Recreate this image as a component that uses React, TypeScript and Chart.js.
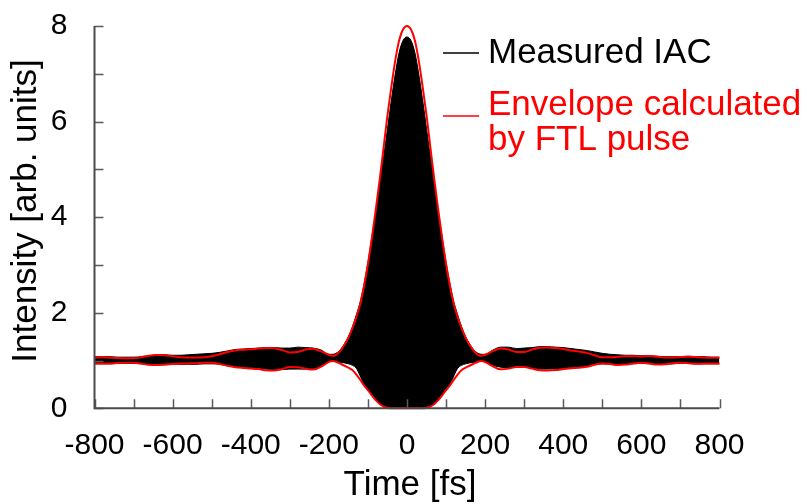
import React, { useEffect, useRef } from "react";
import { Chart, registerables } from "chart.js";

Chart.register(...registerables);

// Delay axis (fs): coarse in the wings, finer around zero delay
const times = [
  -800, -780, -760, -740, -720, -700, -680, -660, -640, -620,
  -600, -580, -560, -540, -520, -500, -480, -460, -440, -420,
  -400, -380, -360, -340, -320, -300, -280, -260, -240, -220,
  -200, -190, -180, -170, -160, -150, -140, -130, -120, -110,
  -100, -90, -80, -70, -60, -50, -40, -30, -20, -10,
  0,
  10, 20, 30, 40, 50, 60, 70, 80, 90, 100,
  110, 120, 130, 140, 150, 160, 170, 180, 190, 200,
  220, 240, 260, 280, 300, 320, 340, 360, 380, 400,
  420, 440, 460, 480, 500, 520, 540, 560, 580, 600,
  620, 640, 660, 680, 700, 720, 740, 760, 780, 800,
];

// Measured interferometric autocorrelation: upper and lower fringe envelope
const iacUpper = [
  1.08, 1.08, 1.08, 1.07, 1.07, 1.07, 1.08, 1.1, 1.12, 1.12,
  1.11, 1.11, 1.12, 1.13, 1.14, 1.15, 1.17, 1.2, 1.23, 1.24,
  1.25, 1.26, 1.27, 1.27, 1.26, 1.26, 1.28, 1.27, 1.26, 1.22,
  1.13, 1.13, 1.16, 1.23, 1.35, 1.5, 1.7, 1.95, 2.22, 2.6,
  3.05, 3.58, 4.12, 4.68, 5.25, 5.85, 6.45, 7.0, 7.45, 7.7,
  7.77,
  7.7, 7.45, 7.0, 6.45, 5.85, 5.25, 4.68, 4.12, 3.58, 3.05,
  2.6, 2.22, 1.95, 1.7, 1.5, 1.35, 1.23, 1.16, 1.13, 1.13,
  1.22, 1.28, 1.28, 1.25, 1.26, 1.27, 1.29, 1.29, 1.28, 1.27,
  1.25, 1.23, 1.21, 1.18, 1.15, 1.13, 1.12, 1.11, 1.11, 1.1,
  1.1, 1.09, 1.08, 1.08, 1.08, 1.09, 1.08, 1.08, 1.07, 1.07,
];

const iacLower = [
  0.93, 0.93, 0.93, 0.94, 0.94, 0.94, 0.93, 0.91, 0.91, 0.91,
  0.92, 0.92, 0.92, 0.92, 0.93, 0.93, 0.92, 0.89, 0.87, 0.86,
  0.85, 0.84, 0.82, 0.81, 0.81, 0.82, 0.82, 0.82, 0.83, 0.87,
  0.98, 0.99, 0.98, 0.96, 0.95, 0.93, 0.9, 0.84, 0.68, 0.5,
  0.38, 0.27, 0.17, 0.09, 0.03, 0, 0, 0, 0, 0,
  0,
  0, 0, 0, 0, 0, 0.03, 0.09, 0.17, 0.27, 0.38,
  0.5, 0.68, 0.84, 0.9, 0.93, 0.95, 0.96, 0.98, 0.99, 0.98,
  0.9, 0.86, 0.85, 0.86, 0.86, 0.84, 0.82, 0.82, 0.83, 0.84,
  0.85, 0.86, 0.88, 0.91, 0.93, 0.92, 0.91, 0.92, 0.93, 0.94,
  0.93, 0.92, 0.92, 0.93, 0.94, 0.94, 0.93, 0.93, 0.93, 0.93,
];

// Envelope calculated from the Fourier-transform-limited pulse
const envUpper = [
  1.06, 1.07, 1.06, 1.05, 1.045, 1.045, 1.07, 1.1, 1.115, 1.11,
  1.09, 1.07, 1.065, 1.065, 1.07, 1.09, 1.13, 1.18, 1.21, 1.225,
  1.235, 1.25, 1.26, 1.255, 1.22, 1.17, 1.18, 1.23, 1.245, 1.19,
  1.12, 1.1, 1.13, 1.21, 1.33, 1.48, 1.67, 1.9, 2.18, 2.56,
  3.02, 3.56, 4.15, 4.78, 5.45, 6.13, 6.73, 7.28, 7.7, 7.93,
  8.0,
  7.93, 7.7, 7.28, 6.73, 6.13, 5.45, 4.78, 4.15, 3.56, 3.02,
  2.56, 2.18, 1.9, 1.67, 1.48, 1.33, 1.21, 1.13, 1.1, 1.12,
  1.2, 1.25, 1.23, 1.18, 1.18, 1.23, 1.265, 1.27, 1.26, 1.24,
  1.21, 1.19, 1.16, 1.11, 1.07, 1.07, 1.08, 1.09, 1.09, 1.085,
  1.095, 1.08, 1.065, 1.065, 1.075, 1.08, 1.075, 1.065, 1.06, 1.06,
];

const envLower = [
  0.94, 0.935, 0.94, 0.95, 0.955, 0.955, 0.935, 0.91, 0.905, 0.915,
  0.925, 0.935, 0.94, 0.945, 0.955, 0.955, 0.93, 0.89, 0.86, 0.845,
  0.835, 0.82, 0.795, 0.79, 0.82, 0.865, 0.86, 0.83, 0.81, 0.87,
  0.97, 0.99, 0.97, 0.93, 0.89, 0.85, 0.8, 0.71, 0.6, 0.48,
  0.38, 0.27, 0.17, 0.09, 0.04, 0.01, 0, 0, 0, 0,
  0,
  0, 0, 0, 0, 0.01, 0.04, 0.09, 0.17, 0.27, 0.38,
  0.48, 0.6, 0.71, 0.8, 0.85, 0.89, 0.93, 0.97, 0.99, 0.97,
  0.88, 0.815, 0.83, 0.865, 0.865, 0.83, 0.795, 0.79, 0.8, 0.82,
  0.84, 0.85, 0.87, 0.91, 0.94, 0.925, 0.905, 0.915, 0.94, 0.955,
  0.94, 0.915, 0.92, 0.945, 0.955, 0.945, 0.93, 0.935, 0.94, 0.935,
];

const xLabelStep = 200;
const yLabelStep = 2;
const xTitle = "Time [fs]";
const yTitle = "Intensity [arb. units]";
const legendMeasured = "Measured IAC";
const legendEnvelope = ["Envelope calculated", "by FTL pulse"];

const FONT = '"Liberation Sans", Arial, Helvetica, sans-serif';
const RED = "#ff0000";

const toPoints = (vals: number[]) => times.map((t, i) => ({ x: t, y: vals[i] }));

// Inward ticks, axis lines, labels, titles and the legend
const decorPlugin = {
  id: "iacDecor",
  afterDraw(chart: any) {
    const { ctx, chartArea: a } = chart;
    const xs = chart.scales.x;
    const ys = chart.scales.y;
    ctx.save();

    const tickLen = 9;
    ctx.strokeStyle = "#5a5a5a";
    ctx.lineWidth = 1.5;
    ctx.beginPath();
    xs.ticks.forEach((t: any) => {
      const px = Math.round(xs.getPixelForValue(t.value)) + 0.5;
      ctx.moveTo(px, a.bottom);
      ctx.lineTo(px, a.bottom - tickLen);
    });
    ys.ticks.forEach((t: any) => {
      const py = Math.round(ys.getPixelForValue(t.value)) + 0.5;
      ctx.moveTo(a.left, py);
      ctx.lineTo(a.left + tickLen, py);
    });
    ctx.stroke();

    ctx.strokeStyle = "#4a4a4a";
    ctx.lineWidth = 2;
    ctx.beginPath();
    ctx.moveTo(a.left, a.top);
    ctx.lineTo(a.left, a.bottom);
    ctx.lineTo(a.right, a.bottom);
    ctx.stroke();

    // tick labels
    ctx.fillStyle = "#000";
    ctx.font = `30px ${FONT}`;
    ctx.textBaseline = "middle";
    ctx.textAlign = "center";
    xs.ticks.forEach((t: any) => {
      if (t.value % xLabelStep !== 0) return;
      ctx.fillText(String(t.value), xs.getPixelForValue(t.value), a.bottom + 37);
    });
    ctx.textAlign = "right";
    ys.ticks.forEach((t: any) => {
      if (t.value % yLabelStep !== 0) return;
      ctx.fillText(String(t.value), a.left - 27, ys.getPixelForValue(t.value));
    });

    // axis titles
    ctx.font = `35px ${FONT}`;
    ctx.textAlign = "center";
    ctx.fillText(xTitle, (a.left + a.right) / 2 + 3, 485);
    ctx.save();
    ctx.translate(26, 211);
    ctx.rotate(-Math.PI / 2);
    ctx.fillText(yTitle, 0, 0);
    ctx.restore();

    // legend
    ctx.textAlign = "left";
    ctx.textBaseline = "alphabetic";
    ctx.lineWidth = 1.5;
    ctx.strokeStyle = "#000";
    ctx.beginPath();
    ctx.moveTo(443, 53);
    ctx.lineTo(479, 53);
    ctx.stroke();
    ctx.fillStyle = "#000";
    ctx.fillText(legendMeasured, 488, 63);

    ctx.strokeStyle = RED;
    ctx.beginPath();
    ctx.moveTo(443, 116);
    ctx.lineTo(479, 116);
    ctx.stroke();
    ctx.fillStyle = RED;
    ctx.fillText(legendEnvelope[0], 488, 115);
    ctx.fillText(legendEnvelope[1], 488, 150);

    ctx.restore();
  },
};

export default function App() {
  const canvasRef = useRef<HTMLCanvasElement | null>(null);

  useEffect(() => {
    const canvas = canvasRef.current;
    if (!canvas) return;
    const chart = new Chart(canvas, {
      type: "line",
      data: {
        datasets: [
          {
            label: "IAC lower",
            data: toPoints(iacLower),
            borderColor: "#000",
            borderWidth: 1,
            pointRadius: 0,
            fill: false,
            cubicInterpolationMode: "monotone",
            order: 2,
          },
          {
            label: "IAC upper",
            data: toPoints(iacUpper),
            borderColor: "#000",
            borderWidth: 1,
            backgroundColor: "#000",
            pointRadius: 0,
            fill: "-1",
            cubicInterpolationMode: "monotone",
            order: 2,
          },
          {
            label: "Envelope upper",
            data: toPoints(envUpper),
            borderColor: RED,
            borderWidth: 2,
            pointRadius: 0,
            fill: false,
            cubicInterpolationMode: "monotone",
            clip: false,
            order: 1,
          },
          {
            label: "Envelope lower",
            data: toPoints(envLower),
            borderColor: RED,
            borderWidth: 2,
            pointRadius: 0,
            fill: false,
            cubicInterpolationMode: "monotone",
            clip: false,
            order: 1,
          },
        ],
      } as any,
      options: {
        animation: false,
        responsive: false,
        devicePixelRatio: 1,
        layout: { padding: { left: 94.5, top: 26, right: 87.5, bottom: 95.7 } },
        plugins: {
          legend: { display: false },
          tooltip: { enabled: false },
        },
        scales: {
          x: {
            type: "linear",
            min: -800,
            max: 800,
            ticks: { stepSize: 100, display: false },
            grid: { display: false, drawTicks: false },
            border: { display: false },
            afterFit: (s: any) => {
              s.height = 0;
            },
          },
          y: {
            type: "linear",
            min: 0,
            max: 8,
            ticks: { stepSize: 1, display: false },
            grid: { display: false, drawTicks: false },
            border: { display: false },
            afterFit: (s: any) => {
              s.width = 0;
            },
          },
        },
      } as any,
      plugins: [decorPlugin],
    });
    return () => chart.destroy();
  }, []);

  return (
    <div style={{ position: "absolute", left: 0, top: 0, width: 807, height: 504, background: "#fff" }}>
      <canvas ref={canvasRef} width={807} height={504} />
    </div>
  );
}
